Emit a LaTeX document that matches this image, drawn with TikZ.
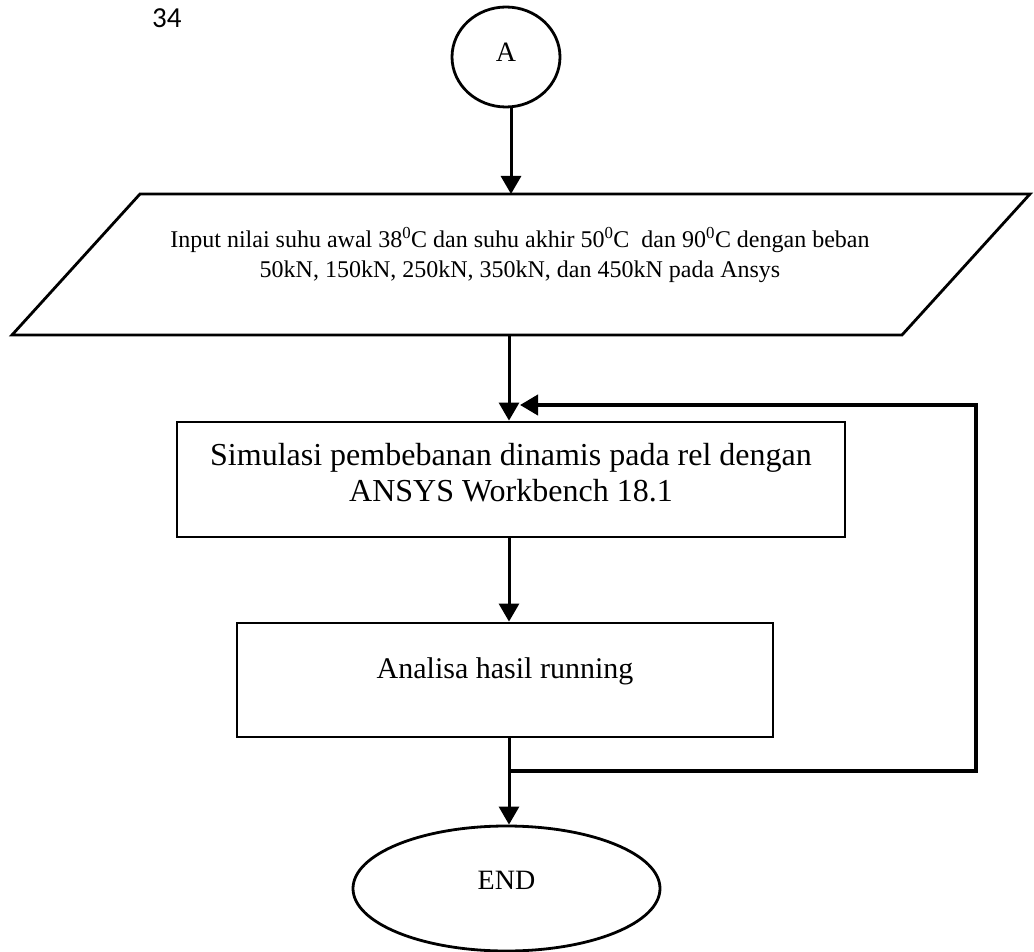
\documentclass[tikz,border=0pt]{standalone}
\usepackage{fontspec}
\setmainfont{Liberation Serif}
\newfontfamily\pagefont{Carlito}
\usetikzlibrary{arrows.meta,shapes.geometric}
\begin{document}
\begin{tikzpicture}[x=1pt,y=-1pt,
  line/.style={line width=2.8pt},
  arr/.style={line width=3pt, -{Triangle[length=18pt,width=20pt]}},
  fbline/.style={line width=4pt, -{Triangle[length=18pt,width=20pt]}},
  procbox/.style={draw, line width=2.8pt, rectangle, inner sep=0pt, align=center},
  term/.style={draw, line width=2.8pt, ellipse, inner sep=0pt}]
\useasboundingbox (0,0) rectangle (1034,952);
\node[anchor=base west, inner sep=0pt, font=\pagefont\fontsize{29}{34}\selectfont] (pg) at (152,28) {34};
\node[term, minimum width=108pt, minimum height=100pt, font=\fontsize{28}{32}\selectfont, text height=18pt, text depth=8pt] (A) at (506,57) {A};
\coordinate (pTL) at (140,194);
\coordinate (pTR) at (1030,194);
\coordinate (pBR) at (902,335);
\coordinate (pBL) at (12,335);
\draw[line] (pTL) -- (pTR) -- (pBR) -- (pBL) -- cycle;
\coordinate (pin) at (511,194);
\coordinate (pout) at (509,335);
\node[inner sep=0pt, anchor=north, align=center, font=\fontsize{24}{30}\selectfont, text height=47pt] (para) at (520,230)
  {Input nilai suhu awal 38\textsuperscript{0}C dan suhu akhir 50\textsuperscript{0}C\ \ dan 90\textsuperscript{0}C dengan beban\\
   50kN, 150kN, 250kN, 350kN, dan 450kN pada Ansys};
\node[procbox, minimum width=668pt, minimum height=115pt, font=\fontsize{32}{36}\selectfont, text height=58pt, text depth=15pt] (sim) at (511,479.5)
  {Simulasi pembebanan dinamis pada rel dengan\\ANSYS Workbench 18.1};
\node[procbox, minimum width=536pt, minimum height=114pt, font=\fontsize{30}{34}\selectfont, text height=20pt, text depth=24pt] (ana) at (505,680)
  {Analisa hasil running};
\node[term, minimum width=307pt, minimum height=125pt, font=\fontsize{28}{32}\selectfont, text height=19pt, text depth=18pt] (end) at (506.5,888.5) {END};
\draw[arr] (A.south -| pin) -- (pin);
\draw[arr] (pout) -- (sim.north -| pout);
\draw[arr] (sim.south -| pout) -- (ana.north -| pout);
\draw[arr] (ana.south -| pout) -- (end.north -| pout);
\coordinate (j) at (509,771);
\coordinate (fbR) at (976,771);
\coordinate (fbT) at (976,405);
\coordinate (fbIn) at (520,405);
\draw[fbline] (j) -- (fbR) -- (fbT) -- (fbIn);
\end{tikzpicture}
\end{document}
